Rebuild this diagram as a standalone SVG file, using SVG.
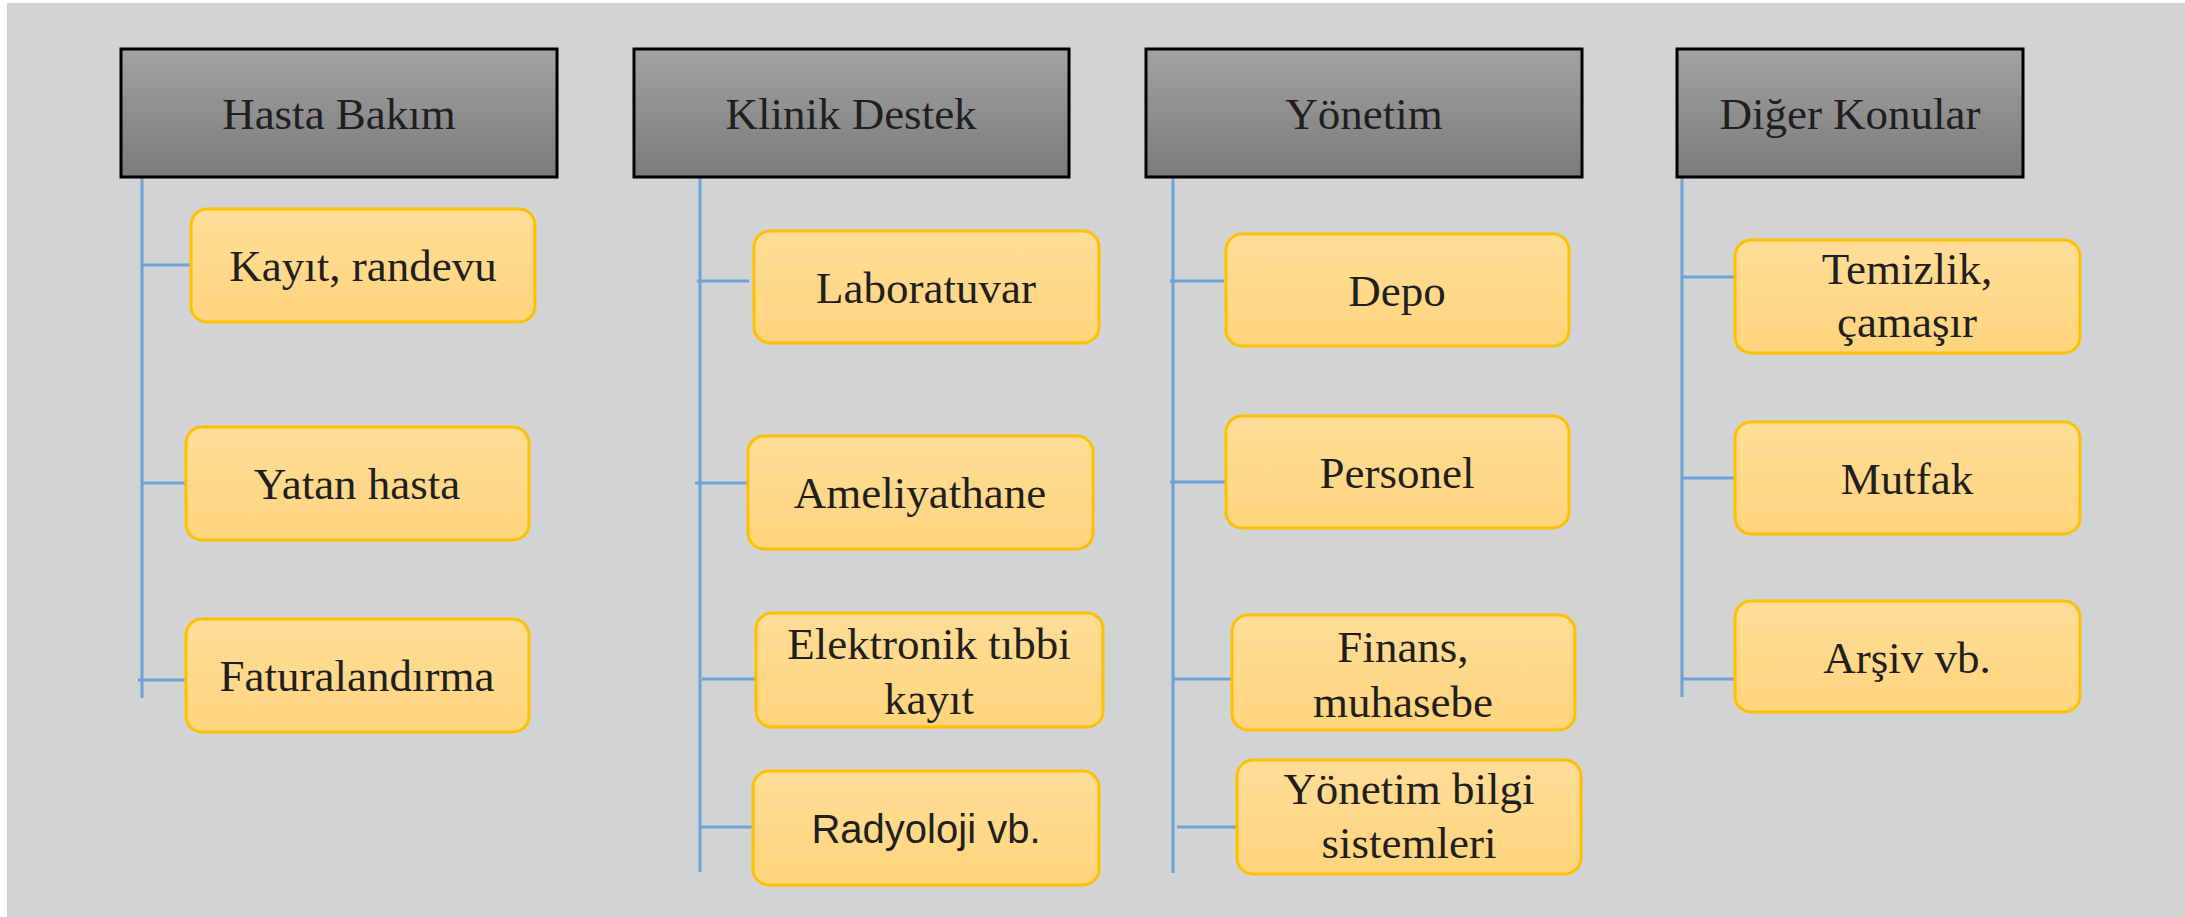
<svg xmlns="http://www.w3.org/2000/svg" width="2185" height="917" viewBox="0 0 2185 917">
<defs>
<linearGradient id="gHead" x1="0" y1="0" x2="0" y2="1">
<stop offset="0" stop-color="#a2a2a2"/>
<stop offset="1" stop-color="#7b7b7b"/>
</linearGradient>
<linearGradient id="gBox" x1="0" y1="0" x2="0" y2="1">
<stop offset="0" stop-color="#ffdd98"/>
<stop offset="1" stop-color="#ffd47c"/>
</linearGradient>
</defs>
<style>
.head{fill:url(#gHead);stroke:#000;stroke-width:3}
.box{fill:url(#gBox);stroke:#ffc000;stroke-width:3}
.t{font-family:"Liberation Serif","Times New Roman",serif;font-size:45px;fill:#1f1f1f;text-anchor:middle}
.s{font-family:"Liberation Sans",Arial,sans-serif;font-size:40px;fill:#1f1f1f;text-anchor:middle}
.ln{stroke:#70a2d8;stroke-width:3;fill:none}
</style>
<rect x="0" y="0" width="2185" height="917" fill="#ffffff"/>
<rect x="7" y="3" width="2178" height="914" fill="#d1d3d5"/>

<g id="connectors">
<path class="ln" d="M142 177V698M142 265H191M142 483H186M138 680H186"/>
<path class="ln" d="M700 165V872M697 281H749M695 483H748M702 679H756M700 827H753"/>
<path class="ln" d="M1173 177V873M1170 281H1224M1170 482H1226M1172 679H1232M1177 827H1237"/>
<path class="ln" d="M1682 177V697M1682 277H1735M1682 478H1735M1682 679H1735"/>
</g>

<g id="h1"><rect class="head" x="121" y="49" width="436" height="128"/><text class="t" x="339" y="129">Hasta Bakım</text></g>
<g id="h2"><rect class="head" x="634" y="49" width="435" height="128"/><text class="t" x="851" y="129">Klinik Destek</text></g>
<g id="h3"><rect class="head" x="1146" y="49" width="436" height="128"/><text class="t" x="1364" y="129">Yönetim</text></g>
<g id="h4"><rect class="head" x="1677" y="49" width="346" height="128"/><text class="t" x="1850" y="129">Diğer Konular</text></g>

<g id="n_kayit"><rect class="box" x="191" y="209" width="344" height="113" rx="16"/><text class="t" x="363" y="281">Kayıt, randevu</text></g>
<g id="n_yatan"><rect class="box" x="186" y="427" width="343" height="113" rx="16"/><text class="t" x="357" y="499">Yatan hasta</text></g>
<g id="n_fatura"><rect class="box" x="186" y="619" width="343" height="113" rx="16"/><text class="t" x="357" y="691">Faturalandırma</text></g>

<g id="n_lab"><rect class="box" x="754" y="231" width="345" height="112" rx="16"/><text class="t" x="926" y="303">Laboratuvar</text></g>
<g id="n_amel"><rect class="box" x="748" y="436" width="345" height="113" rx="16"/><text class="t" x="920" y="508">Ameliyathane</text></g>
<g id="n_ekayit"><rect class="box" x="756" y="613" width="347" height="114" rx="16"/><text class="t" x="929" y="659">Elektronik tıbbi</text><text class="t" x="929" y="714">kayıt</text></g>
<g id="n_rad"><rect class="box" x="753" y="771" width="346" height="114" rx="16"/><text class="s" x="926" y="843">Radyoloji vb.</text></g>

<g id="n_depo"><rect class="box" x="1226" y="234" width="343" height="112" rx="16"/><text class="t" x="1397" y="306">Depo</text></g>
<g id="n_pers"><rect class="box" x="1226" y="416" width="343" height="112" rx="16"/><text class="t" x="1397" y="488">Personel</text></g>
<g id="n_fin"><rect class="box" x="1232" y="615" width="343" height="115" rx="16"/><text class="t" x="1403" y="662">Finans,</text><text class="t" x="1403" y="717">muhasebe</text></g>
<g id="n_ybs"><rect class="box" x="1237" y="760" width="344" height="114" rx="16"/><text class="t" x="1409" y="804">Yönetim bilgi</text><text class="t" x="1409" y="858">sistemleri</text></g>

<g id="n_temiz"><rect class="box" x="1735" y="240" width="345" height="113" rx="16"/><text class="t" x="1907" y="284">Temizlik,</text><text class="t" x="1907" y="337">çamaşır</text></g>
<g id="n_mutfak"><rect class="box" x="1735" y="422" width="345" height="112" rx="16"/><text class="t" x="1907" y="494">Mutfak</text></g>
<g id="n_arsiv"><rect class="box" x="1735" y="601" width="345" height="111" rx="16"/><text class="t" x="1907" y="673">Arşiv vb.</text></g>
</svg>
